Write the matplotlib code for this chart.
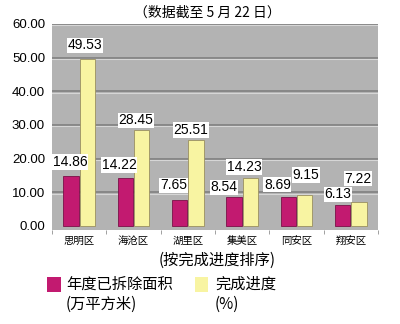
import matplotlib
matplotlib.use("Agg")
import matplotlib.pyplot as plt
import matplotlib.transforms as mtransforms
from matplotlib.patches import Rectangle
import numpy as np

categories = ["思明区", "海沧区", "湖里区", "集美区", "同安区", "翔安区"]
area_removed = [14.86, 14.22, 7.65, 8.54, 8.69, 6.13]
progress = [49.53, 28.45, 25.51, 14.23, 9.15, 7.22]
yticks = [0, 10, 20, 30, 40, 50, 60]

# label offsets in pixels (style only)
off_area = [(-1, 14), (-6, 13), (-6, 15), (-10, 10), (-11, 12), (-5, 11)]
off_prog = [(-2, 14), (-6, 10), (-5, 10), (-6, 11), (1, 20), (-1, 23)]

CJK = ["Noto Sans CJK SC", "DejaVu Sans"]
NUM = ["Liberation Sans", "DejaVu Sans"]

MAG = "#c21a70"
YEL = "#f8f4a2"
BG = "#b3b3b3"

fig = plt.figure(figsize=(4.0, 3.24), dpi=100)
fig.patch.set_facecolor("white")
ax = fig.add_axes([0.13, 0.290, 0.815, 0.636])
ax.set_facecolor(BG)

x = np.arange(len(categories))
w = 0.28
b1 = ax.bar(x - 0.15, area_removed, w, color=MAG, edgecolor="#7a1048", linewidth=0.6, zorder=3)
b2 = ax.bar(x + 0.15, progress, w, color=YEL, edgecolor="#9a9060", linewidth=0.6, zorder=3)

ax.set_xlim(-0.5, len(categories) - 0.5)
ax.set_ylim(-1.2, 60)
ax.set_yticks(yticks)
ax.set_yticklabels([f"{v:.2f}" for v in yticks], family=NUM, fontsize=9.5)
for spine in ax.spines.values():
    spine.set_visible(False)
ax.tick_params(axis="y", length=0, pad=5)

# gridlines: dark line with light highlight below
light_tr = mtransforms.offset_copy(ax.transData, fig=fig, x=0, y=-1.5, units="dots")
for v in yticks[1:]:
    ax.axhline(v, color="#7c7c7c", lw=1.1, zorder=1)
    ax.plot([-0.5, len(categories) - 0.5], [v, v], color="#d6d6d6", lw=0.8,
            transform=light_tr, zorder=1)

ax.set_xticks(x)
ax.set_xticklabels(categories, family=CJK, fontsize=7.5)
ax.tick_params(axis="x", length=0, pad=4)
ax.set_xticks(np.arange(len(categories) + 1) - 0.5, minor=True)
ax.tick_params(axis="x", which="minor", length=3, color="#909090", direction="out")

for i, (bar, val) in enumerate(zip(b1, area_removed)):
    dx, dy = off_area[i]
    ax.annotate(f"{val:.2f}", (bar.get_x() + bar.get_width() / 2, val),
                xytext=(dx, dy), textcoords="offset pixels", ha="center", va="center",
                family=NUM, fontsize=10, zorder=5,
                bbox=dict(boxstyle="square,pad=0.05", fc="white", ec="none"))
for i, (bar, val) in enumerate(zip(b2, progress)):
    dx, dy = off_prog[i]
    ax.annotate(f"{val:.2f}", (bar.get_x() + bar.get_width() / 2, val),
                xytext=(dx, dy), textcoords="offset pixels", ha="center", va="center",
                family=NUM, fontsize=10, zorder=5,
                bbox=dict(boxstyle="square,pad=0.05", fc="white", ec="none"))

H = 324.0
def fy(py):
    return 1 - py / H

fig.text(207 / 400, fy(13), "（数据截至 5 月 22 日）", family=CJK, fontsize=10,
         ha="center", va="center")
fig.text(217 / 400, fy(260), "(按完成进度排序)", family=CJK, fontsize=11,
         ha="center", va="center")

# legend
fig.patches.append(Rectangle((47 / 400, fy(292)), 14 / 400, 15 / H, transform=fig.transFigure,
                             fc=MAG, ec="none"))
fig.patches.append(Rectangle((195 / 400, fy(292)), 13 / 400, 15 / H, transform=fig.transFigure,
                             fc=YEL, ec="none"))
fig.text(66 / 400, fy(284), "年度已拆除面积", family=CJK, fontsize=11, ha="left", va="center")
fig.text(66 / 400, fy(304), "(万平方米)", family=CJK, fontsize=11, ha="left", va="center")
fig.text(215 / 400, fy(284), "完成进度", family=CJK, fontsize=11, ha="left", va="center")
fig.text(215 / 400, fy(304), "(%)", family=CJK, fontsize=11, ha="left", va="center")

fig.savefig("out.png", dpi=100, facecolor="white")
